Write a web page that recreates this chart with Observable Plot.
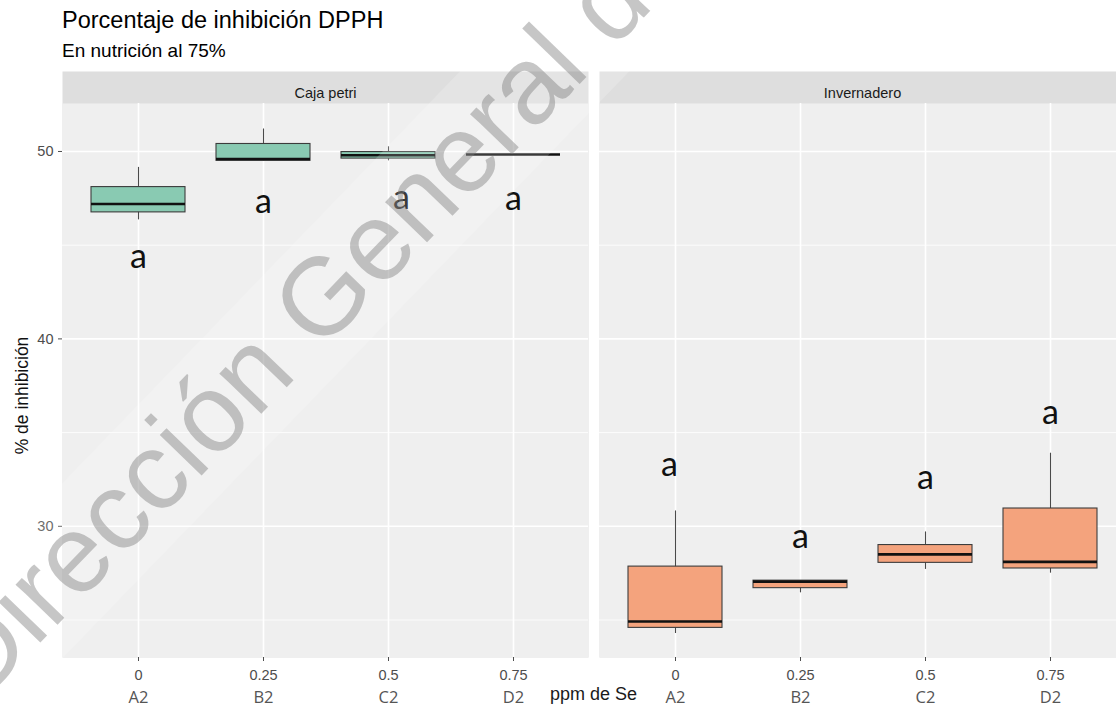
<!DOCTYPE html>
<html>
<head>
<meta charset="utf-8">
<script src="https://cdn.jsdelivr.net/npm/d3@7"></script>
<script src="https://cdn.jsdelivr.net/npm/@observablehq/plot@0.6"></script>
<style>
  html, body { margin: 0; padding: 0; background: #fff; overflow: hidden; }
  #page { position: relative; width: 1116px; height: 710px; overflow: hidden; }
  #header { position: relative; height: 64px; }
  #title { position: absolute; left: 62px; top: 9px; font: 23.5px "Liberation Sans", Arial, sans-serif; line-height: 1; color: #000; white-space: nowrap; }
  #subtitle { position: absolute; left: 62px; top: 41px; font: 19px "Liberation Sans", Arial, sans-serif; line-height: 1; color: #000; white-space: nowrap; }
  #chart svg { display: block; max-width: none; }
  #stamp { position: absolute; left: 0; top: 0; pointer-events: none; }
</style>
</head>
<body>
<div id="page">
  <div id="header">
    <div id="title">Porcentaje de inhibición DPPH</div>
    <div id="subtitle">En nutrición al 75%</div>
  </div>
  <div id="chart"></div>
</div>
<script>
// Panels (growing conditions) and treatments
const panels = ["Caja petri", "Invernadero"];
const treatments = ["A2", "B2", "C2", "D2"];
const doses = ["0", "0.25", "0.5", "0.75"];

// Box summaries (% inhibition), in treatment order
const petriMin = [46.35, 49.50, 49.50, 49.84];
const petriQ1  = [46.75, 49.50, 49.62, 49.84];
const petriMed = [47.20, 49.60, 49.80, 49.84];
const petriQ3  = [48.10, 50.40, 49.97, 49.84];
const petriMax = [49.15, 51.20, 50.25, 49.84];

const invMin = [24.28, 26.45, 27.70, 27.50];
const invQ1  = [24.58, 26.70, 28.05, 27.75];
const invMed = [24.92, 27.05, 28.50, 28.10];
const invQ3  = [27.85, 27.10, 29.00, 30.95];
const invMax = [30.82, 27.10, 29.70, 33.90];

// Significance letters and the level where each one sits
const petriLetters = ["a", "a", "a", "a"];
const petriLetterAt = [44.35, 47.28, 47.50, 47.44];
const invLetters = ["a", "a", "a", "a"];
const invLetterAt = [33.25, 29.41, 32.56, 36.03];

const boxes = [
  ...treatments.map((t, i) => ({panel: panels[0], treat: t, min: petriMin[i], q1: petriQ1[i], med: petriMed[i], q3: petriQ3[i], max: petriMax[i]})),
  ...treatments.map((t, i) => ({panel: panels[1], treat: t, min: invMin[i], q1: invQ1[i], med: invMed[i], q3: invQ3[i], max: invMax[i]}))
];
const letters = [
  ...treatments.map((t, i) => ({panel: panels[0], treat: t, label: petriLetters[i], y: petriLetterAt[i]})),
  ...treatments.map((t, i) => ({panel: panels[1], treat: t, label: invLetters[i], y: invLetterAt[i]}))
];

// small horizontal nudges for a couple of letters
const letterNudge = {"Caja petri/C2": 13, "Invernadero/A2": -6};
const nudgeOf = d => letterNudge[d.panel + "/" + d.treat] || 0;
const nudges = [...new Set(letters.map(nudgeOf))];

const sans = "'Liberation Sans', Arial, sans-serif";

const chart = Plot.plot({
  width: 1125,
  height: 646,
  marginLeft: 62,
  marginRight: 0,
  marginTop: 39,
  marginBottom: 53,
  style: {background: "transparent", maxWidth: "none", fontFamily: sans},
  fx: {domain: panels, paddingInner: 0.0205, paddingOuter: 0, axis: null, label: null},
  x: {domain: treatments, paddingInner: 0.25, paddingOuter: 0.225, axis: null, label: null},
  y: {domain: [23.0, 52.56], axis: null, label: null},
  color: {domain: panels, range: ["#89cab2", "#f4a37d"]},
  marks: [
    // facet strip and panel background
    Plot.frame({fill: "#dedede", stroke: null, insetTop: -32}),
    Plot.frame({fill: "#efefef", stroke: null}),
    // grid
    Plot.ruleY([25, 35, 45], {stroke: "#fff", strokeWidth: 0.8}),
    Plot.ruleY([30, 40, 50], {stroke: "#fff", strokeWidth: 1.6}),
    Plot.ruleX(treatments, {x: d => d, stroke: "#fff", strokeWidth: 1.6}),
    // whiskers
    Plot.ruleX(boxes, {fx: "panel", x: "treat", y1: "min", y2: "max", stroke: "#4a4a4a", strokeWidth: 1.1}),
    // boxes
    Plot.barY(boxes, {fx: "panel", x: "treat", y1: "q1", y2: "q3", fill: "panel", stroke: "#3c3c3c", strokeWidth: 1.1}),
    // medians
    Plot.tickY(boxes, {fx: "panel", x: "treat", y: "med", stroke: "#111", strokeWidth: 2.6}),
    // letters
    ...nudges.map(n => Plot.text(letters.filter(d => nudgeOf(d) === n), {
      fx: "panel", x: "treat", y: "y", text: "label", dx: n,
      fontSize: 34, fontFamily: "Lato, 'Open Sans', sans-serif", fill: "#111", lineAnchor: "middle"
    })),
    // strip labels
    Plot.text(panels, {fx: d => d, frameAnchor: "top", dy: -16, text: d => d, fontSize: 14.5, fill: "#1a1a1a"}),
    // axes
    Plot.axisY([30, 40, 50], {tickSize: 4, tickPadding: 5, fontSize: 14.5, color: "#4d4d4d", label: null}),
    Plot.axisX({tickFormat: d => doses[treatments.indexOf(d)], tickSize: 4, tickPadding: 8, fontSize: 14.5, color: "#4d4d4d", label: null}),
    Plot.axisX({tickFormat: d => d, tickSize: 0, tickPadding: 34, fontSize: 16.5, fontFamily: "'Open Sans', sans-serif", color: "#555", label: null}),
    // axis titles
    Plot.text([panels[0]], {fx: d => d, frameAnchor: "left", textAnchor: "middle", dx: -40, dy: 15, rotate: -90, text: () => "% de inhibición", fontSize: 17.5, fill: "#111"}),
    Plot.text([panels[0]], {fx: d => d, frameAnchor: "bottom-right", dx: 5, dy: 42, textAnchor: "middle", text: () => "ppm de Se", fontSize: 18, fill: "#1a1a1a"})
  ]
});
document.getElementById("chart").appendChild(chart);

// diagonal watermark over the figure
const stamp = d3.select("#page").append("svg")
  .attr("id", "stamp").attr("width", 1116).attr("height", 710);
const sg = stamp.append("g").attr("transform", "translate(-20,705) rotate(-46)");
sg.append("rect").attr("x", -40).attr("y", -95).attr("width", 1150).attr("height", 122)
  .attr("fill", "#fff").attr("opacity", 0.18);
sg.append("text").text("Dirección General de")
  .attr("font-family", sans).attr("font-size", 110)
  .attr("fill", "#7a7a7a").attr("opacity", 0.42);
</script>
</body>
</html>
